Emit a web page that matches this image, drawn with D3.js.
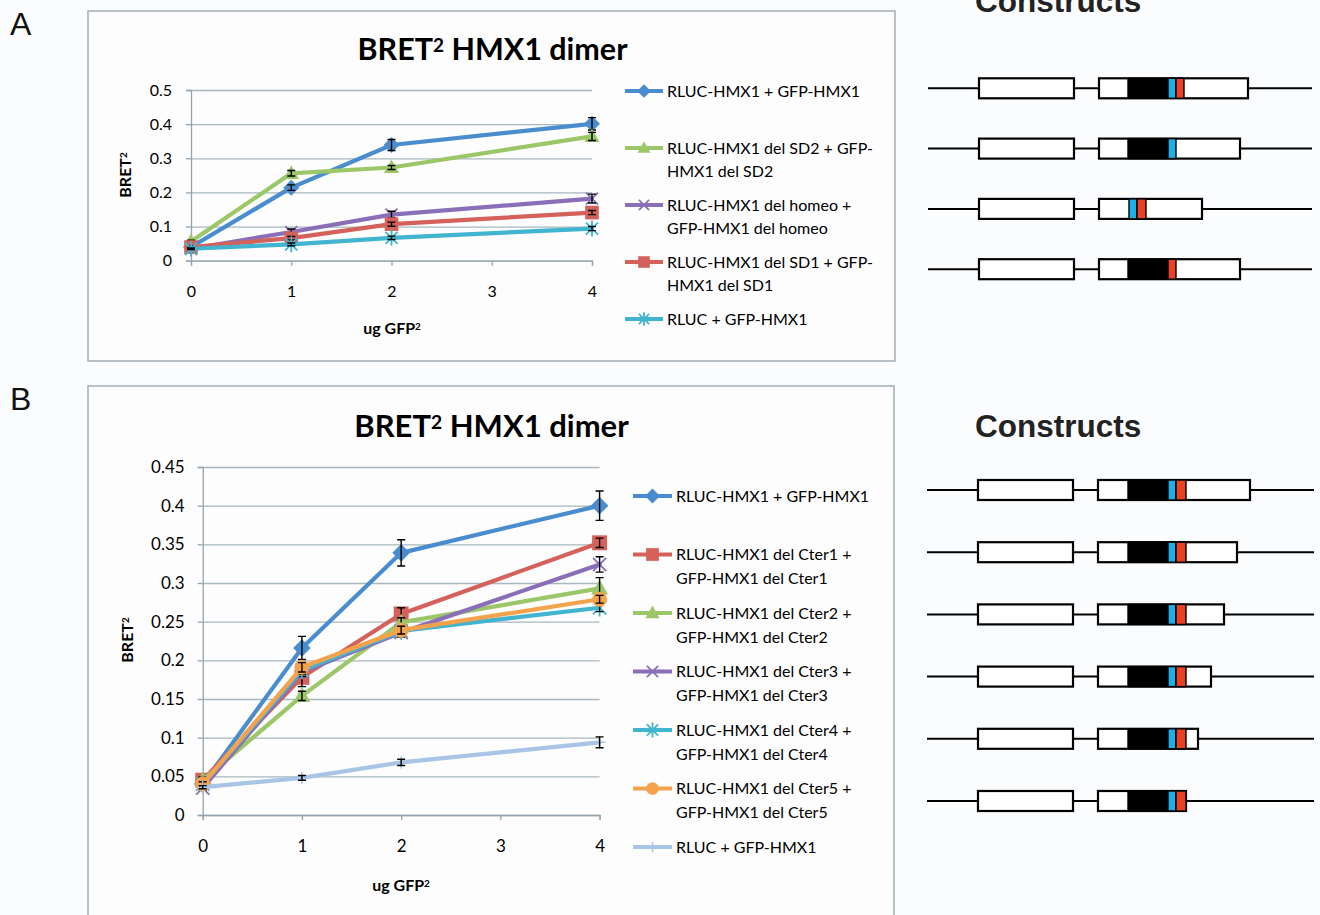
<!DOCTYPE html>
<html><head><meta charset="utf-8">
<script src="https://cdn.jsdelivr.net/npm/d3@7"></script>
<style>body{margin:0;background:#fbfcfe}</style>
</head><body><svg id="c" width="1320" height="915"></svg>
<script>
// ---------- DATA ----------
const xDoses = [0, 1, 2, 4];
const xTickValues = [0, 1, 2, 3, 4];
const yTicksA = [0, 0.1, 0.2, 0.3, 0.4, 0.5];
const yTicksB = [0, 0.05, 0.1, 0.15, 0.2, 0.25, 0.3, 0.35, 0.4, 0.45];

// text pieces: [base, superscript, rest]
const titleParts = ["BRET", "2", " HMX1 dimer"];
const yTitleParts = ["BRET", "2", ""];
const xTitleParts = ["ug GFP", "2", ""];

// Panel A series
const namesA = [
  ["RLUC-HMX1 + GFP-HMX1"],
  ["RLUC-HMX1 del SD2 + GFP-", "HMX1 del SD2"],
  ["RLUC-HMX1 del homeo +", "GFP-HMX1 del homeo"],
  ["RLUC-HMX1 del SD1 + GFP-", "HMX1 del SD1"],
  ["RLUC + GFP-HMX1"]
];
const aWT      = [0.040, 0.214, 0.339, 0.401];
const aWTerr   = [0.004, 0.008, 0.016, 0.018];
const aSD2     = [0.056, 0.256, 0.273, 0.364];
const aSD2err  = [0.004, 0.008, 0.006, 0.012];
const aHomeo   = [0.035, 0.084, 0.135, 0.182];
const aHomeoErr= [0.003, 0.009, 0.010, 0.013];
const aSD1     = [0.040, 0.066, 0.107, 0.141];
const aSD1err  = [0.003, 0.005, 0.006, 0.006];
const aRluc    = [0.035, 0.048, 0.067, 0.094];
const aRlucErr = [0.002, 0.004, 0.005, 0.006];

// Panel B series
const namesB = [
  ["RLUC-HMX1 + GFP-HMX1"],
  ["RLUC-HMX1 del Cter1 +", "GFP-HMX1 del Cter1"],
  ["RLUC-HMX1 del Cter2 +", "GFP-HMX1 del Cter2"],
  ["RLUC-HMX1 del Cter3 +", "GFP-HMX1 del Cter3"],
  ["RLUC-HMX1 del Cter4 +", "GFP-HMX1 del Cter4"],
  ["RLUC-HMX1 del Cter5 +", "GFP-HMX1 del Cter5"],
  ["RLUC + GFP-HMX1"]
];
const bWT      = [0.040, 0.216, 0.339, 0.400];
const bWTerr   = [0.004, 0.015, 0.017, 0.019];
const bC1      = [0.045, 0.178, 0.260, 0.352];
const bC1err   = [0.004, 0.012, 0.008, 0.006];
const bC2      = [0.045, 0.154, 0.249, 0.293];
const bC2err   = [0.004, 0.006, 0.006, 0.014];
const bC3      = [0.035, 0.185, 0.236, 0.324];
const bC3err   = [0.003, 0.006, 0.006, 0.010];
const bC4      = [0.040, 0.187, 0.238, 0.268];
const bC4err   = [0.003, 0.005, 0.005, 0.005];
const bC5      = [0.040, 0.191, 0.239, 0.279];
const bC5err   = [0.003, 0.006, 0.005, 0.005];
const bRluc    = [0.036, 0.048, 0.068, 0.094];
const bRlucErr = [0.002, 0.003, 0.004, 0.007];

// Constructs (lengths in arbitrary residue units of the second box)
const constructsA = [
  {len: 149, domains: [["black", 29, 69], ["blue", 69, 77], ["red", 77, 85]]},
  {len: 141, domains: [["black", 29, 69], ["blue", 69, 77]]},
  {len: 103, domains: [["blue", 30, 38], ["red", 38, 47]]},
  {len: 141, domains: [["black", 29, 69], ["red", 69, 77]]}
];
const constructsB = [
  {len: 152, domains: [["black", 30, 70], ["blue", 70, 78], ["red", 78, 88]]},
  {len: 139, domains: [["black", 30, 70], ["blue", 70, 78], ["red", 78, 88]]},
  {len: 126, domains: [["black", 30, 70], ["blue", 70, 78], ["red", 78, 88]]},
  {len: 113, domains: [["black", 30, 70], ["blue", 70, 78], ["red", 78, 88]]},
  {len: 100, domains: [["black", 30, 70], ["blue", 70, 78], ["red", 78, 88]]},
  {len: 88,  domains: [["black", 30, 70], ["blue", 70, 78], ["red", 78, 88]]}
];

// ---------- STYLES ----------
const C = {blue:"#4a8dcf", red:"#d4625b", green:"#9cc768", purple:"#8a6fb8",
           cyan:"#41b4cf", orange:"#f5a24c", lightblue:"#a9c5e6"};
const domColor = {black:"#000", blue:"#1cb0e6", red:"#ea4124"};
const FONT = "Lato, 'Open Sans', sans-serif";
const gridCol = "#a9b7be", axisCol = "#95a5ad", frameCol = "#a7b3b8";

const seriesA = [
  {v:aWT, e:aWTerr, c:C.blue, m:"diamond"},
  {v:aSD2, e:aSD2err, c:C.green, m:"triangle"},
  {v:aHomeo, e:aHomeoErr, c:C.purple, m:"x"},
  {v:aSD1, e:aSD1err, c:C.red, m:"square"},
  {v:aRluc, e:aRlucErr, c:C.cyan, m:"star"}
].map((s,i)=>({...s, name:namesA[i]}));
const seriesB = [
  {v:bWT, e:bWTerr, c:C.blue, m:"diamond"},
  {v:bC1, e:bC1err, c:C.red, m:"square"},
  {v:bC2, e:bC2err, c:C.green, m:"triangle"},
  {v:bC3, e:bC3err, c:C.purple, m:"x"},
  {v:bC4, e:bC4err, c:C.cyan, m:"star"},
  {v:bC5, e:bC5err, c:C.orange, m:"circle"},
  {v:bRluc, e:bRlucErr, c:C.lightblue, m:"plus"}
].map((s,i)=>({...s, name:namesB[i]}));

const svg = d3.select("#c");

function supText(sel, parts) {
  sel.append("tspan").text(parts[0]);
  sel.append("tspan").attr("font-size", "62%").attr("dy", "-0.42em").text(parts[1]);
  if (parts[2]) sel.append("tspan").attr("dy", "0.26em").text(parts[2]);
  return sel;
}

function drawMarker(g, type, x, y, color, s) {
  if (type === "diamond") {
    g.append("path").attr("d", `M${x},${y-s}L${x+s},${y}L${x},${y+s}L${x-s},${y}Z`).attr("fill", color);
  } else if (type === "square") {
    g.append("rect").attr("x", x-s*0.85).attr("y", y-s*0.85).attr("width", s*1.7).attr("height", s*1.7).attr("fill", color);
  } else if (type === "triangle") {
    g.append("path").attr("d", `M${x},${y-s}L${x+s*0.95},${y+s*0.7}L${x-s*0.95},${y+s*0.7}Z`).attr("fill", color);
  } else if (type === "circle") {
    g.append("circle").attr("cx", x).attr("cy", y).attr("r", s*0.85).attr("fill", color);
  } else if (type === "x" || type === "star") {
    const d = s*0.75;
    let p = `M${x-d},${y-d}L${x+d},${y+d}M${x-d},${y+d}L${x+d},${y-d}`;
    if (type === "star") p += `M${x},${y-s}L${x},${y+s}`;
    g.append("path").attr("d", p).attr("stroke", color).attr("stroke-width", 1.8).attr("fill", "none");
  } else if (type === "plus") {
    g.append("path").attr("d", `M${x},${y-s*0.7}L${x},${y+s*0.7}M${x-s*0.7},${y}L${x+s*0.7},${y}`)
      .attr("stroke", color).attr("stroke-width", 1.5).attr("fill", "none");
  }
}

function drawPanel(cfg) {
  const g = svg.append("g");
  const x = d3.scaleLinear().domain([0, 4]).range(cfg.xr);
  const y = d3.scaleLinear().domain([0, cfg.ymax]).range(cfg.yr);
  const fmt = d => String(+d.toFixed(2));

  g.append("rect").attr("x", cfg.frame[0]).attr("y", cfg.frame[1]).attr("width", cfg.frame[2]).attr("height", cfg.frame[3])
    .attr("fill", "#fdfdfe").attr("stroke", frameCol).attr("stroke-width", 1.6);

  const grid = g.append("g").attr("transform", `translate(${x(0)},0)`)
    .call(d3.axisLeft(y).tickValues(cfg.yTicks).tickSize(-(x(4)-x(0))).tickFormat(""));
  grid.select(".domain").remove();
  grid.selectAll("line").attr("stroke", gridCol).attr("stroke-width", 1.3);

  const ya = g.append("g").attr("transform", `translate(${x(0)},0)`)
    .call(d3.axisLeft(y).tickValues(cfg.yTicks).tickSize(5).tickPadding(cfg.yPad).tickFormat(fmt));
  ya.select(".domain").attr("stroke", axisCol).attr("stroke-width", 1.3);
  ya.selectAll("line").attr("stroke", axisCol).attr("stroke-width", 1.3);
  ya.selectAll("text").attr("font-family", FONT).attr("font-size", cfg.tickFont).attr("fill", "#000");

  const xa = g.append("g").attr("transform", `translate(0,${y(0)})`)
    .call(d3.axisBottom(x).tickValues(xTickValues).tickSize(5).tickPadding(cfg.xPad).tickFormat(d3.format("d")));
  xa.select(".domain").attr("stroke", axisCol).attr("stroke-width", 1.3);
  xa.selectAll("line").attr("stroke", axisCol).attr("stroke-width", 1.3);
  xa.selectAll("text").attr("font-family", FONT).attr("font-size", cfg.tickFont).attr("fill", "#000");

  supText(g.append("text").attr("x", cfg.titlePos[0]).attr("y", cfg.titlePos[1]).attr("text-anchor", "middle")
    .attr("font-family", FONT).attr("font-weight", "bold").attr("font-size", cfg.titleFont).attr("fill", "#000"), titleParts);
  supText(g.append("text").attr("transform", `translate(${cfg.yTitlePos[0]},${cfg.yTitlePos[1]}) rotate(-90)`).attr("text-anchor", "middle")
    .attr("font-family", FONT).attr("font-weight", "bold").attr("font-size", cfg.axisTitleFont).attr("fill", "#000"), yTitleParts);
  supText(g.append("text").attr("x", cfg.xTitlePos[0]).attr("y", cfg.xTitlePos[1]).attr("text-anchor", "middle")
    .attr("font-family", FONT).attr("font-weight", "bold").attr("font-size", cfg.axisTitleFont).attr("fill", "#000"), xTitleParts);

  const line = d3.line().x((d, i) => x(xDoses[i])).y(d => y(d));
  cfg.series.forEach(s => {
    const sg = g.append("g");
    sg.append("path").attr("d", line(s.v)).attr("fill", "none").attr("stroke", s.c)
      .attr("stroke-width", cfg.lw).attr("stroke-linejoin", "round").attr("stroke-linecap", "round");
    s.v.forEach((v, i) => drawMarker(sg, s.m, x(xDoses[i]), y(v), s.c, cfg.ms));
    s.v.forEach((v, i) => {
      const xx = x(xDoses[i]), y1 = y(v + s.e[i]), y2 = y(v - s.e[i]);
      sg.append("path").attr("d", `M${xx},${y1}L${xx},${y2}M${xx-4},${y1}L${xx+4},${y1}M${xx-4},${y2}L${xx+4},${y2}`)
        .attr("stroke", "#000").attr("stroke-width", 1.4).attr("fill", "none");
    });
  });

  cfg.series.forEach((s, i) => {
    const ly = cfg.legY0 + i * cfg.legStep;
    const lg = g.append("g");
    lg.append("line").attr("x1", cfg.legX[0]).attr("x2", cfg.legX[1]).attr("y1", ly).attr("y2", ly)
      .attr("stroke", s.c).attr("stroke-width", cfg.lw);
    drawMarker(lg, s.m, (cfg.legX[0] + cfg.legX[1]) / 2, ly, s.c, cfg.ms * 0.85);
    s.name.forEach((t, j) => {
      lg.append("text").attr("x", cfg.legX[2]).attr("y", ly + 5.5 + j * cfg.legLine)
        .attr("font-family", FONT).attr("font-size", cfg.legFont).attr("fill", "#000").text(t);
    });
  });
}

drawPanel({
  frame: [88, 11, 807, 350], xr: [191, 592], yr: [260.7, 90], ymax: 0.5, yTicks: yTicksA,
  yPad: 14, xPad: 20, tickFont: 16, titlePos: [492.5, 60], titleFont: 30.5,
  yTitlePos: [131, 175], xTitlePos: [392, 334], axisTitleFont: 16,
  series: seriesA, lw: 4.2, ms: 8, legY0: 91, legStep: 57, legLine: 23,
  legX: [625, 663, 667], legFont: 16
});
drawPanel({
  frame: [88, 386, 806, 560], xr: [202.7, 599.6], yr: [815, 467], ymax: 0.45, yTicks: yTicksB,
  yPad: 13, xPad: 20, tickFont: 17, titlePos: [491.5, 437], titleFont: 31,
  yTitlePos: [133, 640], xTitlePos: [401, 891], axisTitleFont: 16,
  series: seriesB, lw: 4.2, ms: 8.8, legY0: 496, legStep: 58.5, legLine: 24,
  legX: [633, 672, 676], legFont: 16
});

svg.append("text").attr("x", 10).attr("y", 35).attr("font-family", "'Liberation Sans', Arial, sans-serif")
  .attr("font-size", 32).attr("fill", "#111").text("A");
svg.append("text").attr("x", 10).attr("y", 410).attr("font-family", "'Liberation Sans', Arial, sans-serif")
  .attr("font-size", 32).attr("fill", "#111").text("B");

function drawConstructs(list, cfg) {
  const g = svg.append("g");
  g.append("text").attr("x", 975).attr("y", cfg.titleY).attr("font-family", "'Liberation Sans', Arial, sans-serif")
    .attr("font-weight", "bold").attr("font-size", 31.5).attr("fill", "#222").text("Constructs");
  const u = d3.scaleLinear().domain([0, 100]).range([cfg.box2X, cfg.box2X + 100]);
  const row = d3.scaleLinear().domain([0, 1]).range([cfg.row0, cfg.row0 + cfg.rowStep]);
  list.forEach((c, i) => {
    const cy = row(i), h = 20;
    g.append("line").attr("x1", cfg.line[0]).attr("x2", cfg.line[1]).attr("y1", cy).attr("y2", cy)
      .attr("stroke", "#000").attr("stroke-width", 2);
    g.append("rect").attr("x", cfg.box1[0]).attr("y", cy - h/2).attr("width", cfg.box1[1] - cfg.box1[0]).attr("height", h)
      .attr("fill", "#fff").attr("stroke", "#000").attr("stroke-width", 2.2);
    g.append("rect").attr("x", u(0)).attr("y", cy - h/2).attr("width", u(c.len) - u(0)).attr("height", h)
      .attr("fill", "#fff").attr("stroke", "#000").attr("stroke-width", 2.2);
    c.domains.forEach(d => {
      g.append("rect").attr("x", u(d[1])).attr("y", cy - h/2).attr("width", u(d[2]) - u(d[1])).attr("height", h)
        .attr("fill", domColor[d[0]]).attr("stroke", "#000").attr("stroke-width", 1.4);
    });
  });
}
drawConstructs(constructsA, {titleY: 12, box2X: 1099, row0: 88.3, rowStep: 60.3, line: [928, 1312], box1: [979, 1074]});
drawConstructs(constructsB, {titleY: 437, box2X: 1098, row0: 490, rowStep: 62.2, line: [927, 1314], box1: [978, 1073]});
</script></body></html>
